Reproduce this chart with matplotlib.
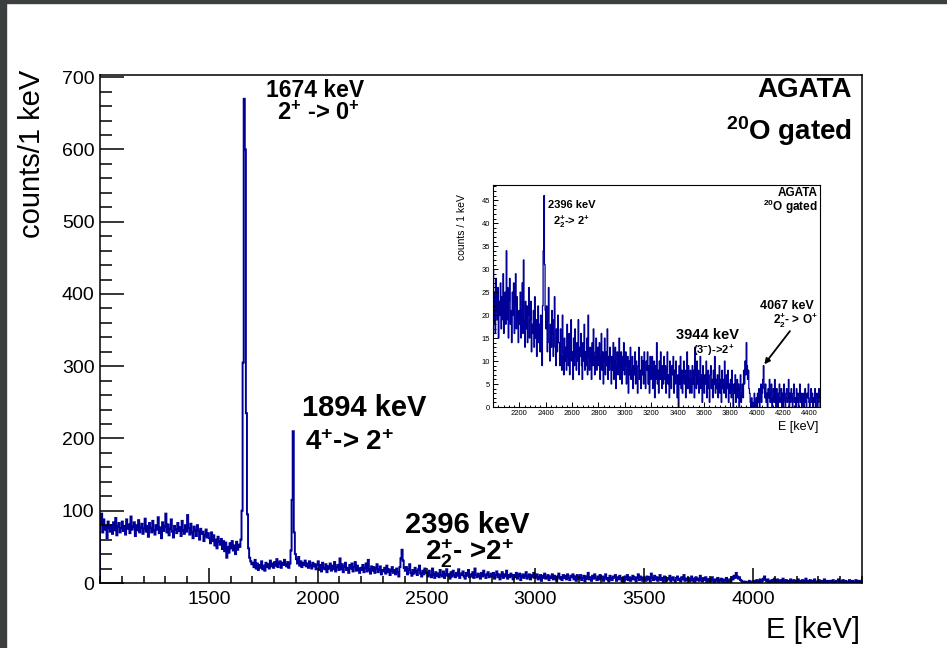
import numpy as np
import matplotlib
matplotlib.use('Agg')
import matplotlib.pyplot as plt
from matplotlib.patches import Rectangle
from matplotlib.ticker import MultipleLocator

plt.rcParams['font.family'] = ['Liberation Sans', 'DejaVu Sans']
plt.rcParams['mathtext.fontset'] = 'custom'
plt.rcParams['mathtext.rm'] = 'Liberation Sans'
plt.rcParams['mathtext.bf'] = 'Liberation Sans:bold'
plt.rcParams['mathtext.default'] = 'bf'

########## gamma spectrum, 20O gated (counts per keV, 5 keV steps) ##########
counts_1000 = [82, 96, 70, 88, 74, 79, 62, 85, 77, 71,
               80, 68, 84, 73, 90, 66, 78, 83, 70, 76,
               85, 72, 79, 67, 88, 75, 81, 69, 92, 74,
               78, 84, 65, 80, 73, 87, 70, 77, 82, 68,
               75, 89, 71, 79, 64, 83, 76, 70, 86, 73,
               67, 80, 74, 91, 69, 77, 62, 84, 72, 78,
               96, 70, 81, 66, 75, 88, 71, 63, 79, 74,
               69, 83, 72, 77, 65, 86, 73, 68, 80, 71,
               94, 76, 67, 82, 70, 62, 78, 73, 65, 80,
               72, 60, 75, 68, 71, 58, 66, 74, 63, 69]
# 1674 and 1894 keV lines
counts_1500 = [62, 55, 70, 58, 66, 52, 60, 48, 64, 57,
               53, 61, 47, 58, 44, 56, 35, 50, 42, 55,
               48, 58, 45, 52, 40, 57, 46, 53, 50, 60,
               100, 305, 670, 600, 235, 95, 48, 35, 30, 26,
               28, 22, 32, 20, 27, 18, 25, 21, 30, 19,
               24, 17, 28, 22, 26, 20, 31, 23, 27, 21,
               29, 24, 33, 22, 27, 30, 21, 28, 25, 32,
               26, 23, 29, 21, 27, 45, 115, 210, 70, 40,
               33, 27, 36, 24, 30, 22, 28, 25, 31, 23,
               27, 21, 30, 24, 20, 28, 23, 26, 19, 25]
# 2396 keV line
counts_2000 = [30, 18, 25, 16, 28, 21, 19, 26, 15, 23,
               20, 27, 17, 24, 19, 29, 16, 22, 25, 18,
               34, 19, 26, 15, 23, 28, 18, 21, 14, 25,
               20, 27, 16, 22, 29, 17, 24, 19, 14, 21,
               18, 25, 15, 21, 27, 16, 32, 19, 13, 23,
               17, 22, 14, 20, 26, 15, 19, 23, 12, 18,
               16, 21, 13, 24, 15, 19, 11, 17, 22, 14,
               18, 12, 20, 15, 9, 22, 34, 46, 31, 21,
               17, 22, 12, 19, 26, 14, 10, 18, 13, 21,
               16, 11, 19, 24, 13, 9, 17, 12, 20, 14]
counts_2500 = [14, 9, 17, 11, 8, 20, 12, 7, 15, 10,
               13, 8, 18, 11, 9, 16, 7, 12, 19, 10,
               12, 6, 15, 9, 17, 11, 8, 14, 10, 19,
               7, 13, 11, 16, 9, 6, 14, 10, 18, 8,
               12, 9, 15, 7, 20, 11, 8, 13, 10, 6,
               14, 9, 17, 11, 7, 12, 15, 8, 10, 13,
               9, 14, 6, 11, 16, 8, 12, 5, 10, 15,
               7, 12, 9, 17, 6, 11, 8, 13, 10, 5,
               11, 8, 14, 6, 10, 13, 4, 9, 12, 7,
               10, 15, 6, 9, 12, 5, 11, 8, 14, 7]
counts_3000 = [9, 12, 5, 8, 11, 3, 10, 7, 13, 6,
               8, 11, 4, 9, 7, 12, 5, 10, 6, 3,
               9, 13, 6, 8, 4, 11, 7, 10, 5, 12,
               7, 4, 10, 8, 12, 5, 9, 3, 11, 6,
               8, 11, 4, 7, 10, 2, 9, 6, 14, 5,
               8, 3, 10, 6, 12, 7, 4, 9, 5, 11,
               6, 9, 3, 8, 12, 5, 7, 2, 10, 6,
               4, 9, 7, 11, 3, 8, 5, 10, 6, 2,
               7, 0, 9, 5, 11, 4, 8, 3, 6, 10,
               5, 8, 2, 7, 12, 4, 9, 6, 3, 8]
# 3944 keV line
counts_3500 = [6, 3, 9, 5, 8, 2, 13, 7, 4, 10,
               5, 8, 3, 6, 11, 4, 7, 1, 9, 5,
               3, 7, 5, 10, 2, 6, 8, 4, 1, 7,
               9, 4, 6, 2, 8, 5, 11, 3, 6, 4,
               7, 2, 5, 9, 3, 6, 1, 8, 4, 6,
               3, 10, 5, 2, 7, 4, 8, 1, 5, 3,
               6, 2, 8, 4, 0, 5, 3, 7, 1, 4,
               6, 2, 5, 0, 4, 7, 1, 3, 5, 2,
               8, 5, 10, 7, 14, 9, 6, 8, 4, 3,
               1, 0, 2, 0, 1, 0, 3, 0, 1, 2]
# 4067 keV line
counts_4000 = [0, 3, 1, 4, 0, 2, 5, 1, 3, 6,
               9, 4, 2, 5, 1, 3, 0, 4, 2, 6,
               1, 3, 5, 0, 2, 4, 1, 6, 3, 0,
               4, 2, 0, 3, 5, 1, 2, 4, 0, 3,
               1, 5, 2, 0, 3, 4, 1, 2, 6, 0,
               3, 1, 4, 2, 0, 3, 5, 1, 2, 0,
               4, 1, 3, 0, 2, 5, 1, 3, 0, 2,
               3, 0, 2, 4, 1, 0, 3, 2, 5, 1,
               0, 2, 4, 1, 3, 0, 2, 1, 4, 0,
               2, 3, 0, 1, 4, 2, 0, 3, 1, 2]

counts = np.array(counts_1000 + counts_1500 + counts_2000 + counts_2500
                  + counts_3000 + counts_3500 + counts_4000)
edges = np.arange(1000, 4505, 5)

blue = '#000099'

fig = plt.figure(figsize=(9.47, 6.48), dpi=100)
fig.patches.append(Rectangle((0, 1 - 3/648), 1, 3/648, transform=fig.transFigure,
                             color='#3b3f3f', zorder=10))
fig.patches.append(Rectangle((0, 0), 6/947, 1, transform=fig.transFigure,
                             color='#3b3f3f', zorder=10))

########## main spectrum ##########
ax = fig.add_axes([100/947, 65/648, 762/947, 508/648])
ax.stairs(counts, edges, color=blue, lw=1.4)
ax.set_xlim(1000, 4500)
ax.set_ylim(0, 703)
ax.set_xticks(np.arange(1500, 4001, 500))
ax.xaxis.set_minor_locator(MultipleLocator(100))
ax.yaxis.set_major_locator(MultipleLocator(100))
ax.yaxis.set_minor_locator(MultipleLocator(20))
ax.tick_params(axis='both', which='both', direction='in', top=False, right=False,
               width=1.1, labelsize=14)
ax.tick_params(axis='y', which='major', length=17, pad=4)
ax.tick_params(axis='y', which='minor', length=8.5)
ax.tick_params(axis='x', which='major', length=11, pad=6)
ax.tick_params(axis='x', which='minor', length=5)
for s in ax.spines.values():
    s.set_linewidth(1.1)

ax.text(-0.0892, 0.844, 'counts/1 keV', transform=ax.transAxes, rotation=90,
        ha='center', va='center', fontsize=21)
ax.text(0.997, -0.0925, 'E [keV]', transform=ax.transAxes, ha='right', va='center',
        fontsize=21)

ax.text(1988, 682, '1674 keV', ha='center', va='center', fontsize=16.5, fontweight='bold')
ax.text(2001, 650, r'2$^{+}$ -> 0$^{+}$', ha='center', va='center', fontsize=17,
        fontweight='bold')
ax.text(2213, 242, '1894 keV', ha='center', va='center', fontsize=21, fontweight='bold')
ax.text(2148, 194, r'4$^{+}$-> 2$^{+}$', ha='center', va='center', fontsize=20,
        fontweight='bold')
ax.text(2686, 80, '2396 keV', ha='center', va='center', fontsize=21, fontweight='bold')
ax.text(2700, 41, r'$2_{2}^{+}$- >2$^{+}$', ha='center', va='center', fontsize=20,
        fontweight='bold')
ax.text(0.987, 0.970, 'AGATA', transform=ax.transAxes, ha='right', va='center',
        fontsize=20, fontweight='bold')
ax.text(0.987, 0.890, r'$^{20}$O gated', transform=ax.transAxes, ha='right', va='center',
        fontsize=20, fontweight='bold')

########## inset, 2000-4500 keV ##########
ax_in = fig.add_axes([493/947, 241/648, 327/947, 222/648], zorder=5)
ax_in.set_facecolor('white')
ax_in.stairs(counts, edges, color=blue, lw=0.9)
ax_in.set_xlim(2000, 4480)
ax_in.set_ylim(0, 48.3)
ax_in.set_xticks(np.arange(2200, 4401, 200))
ax_in.xaxis.set_minor_locator(MultipleLocator(40))
ax_in.yaxis.set_major_locator(MultipleLocator(5))
ax_in.yaxis.set_minor_locator(MultipleLocator(1))
ax_in.tick_params(axis='both', which='both', direction='in', top=False, right=False,
                  width=0.7, labelsize=5.5, pad=2)
ax_in.tick_params(axis='both', which='major', length=3.5)
ax_in.tick_params(axis='both', which='minor', length=1.8)
for s in ax_in.spines.values():
    s.set_linewidth(0.8)

ax_in.text(-0.095, 0.812, 'counts / 1 keV', transform=ax_in.transAxes, rotation=90,
           ha='center', va='center', fontsize=7.5)
ax_in.text(0.994, -0.09, 'E [keV]', transform=ax_in.transAxes, ha='right', va='center',
           fontsize=9)
ax_in.text(0.994, 0.964, 'AGATA', transform=ax_in.transAxes, ha='right', va='center',
           fontsize=8.5, fontweight='bold')
ax_in.text(0.994, 0.900, r'$^{20}$O gated', transform=ax_in.transAxes, ha='right',
           va='center', fontsize=8.5, fontweight='bold')

ax_in.text(2597, 43.9, '2396 keV', ha='center', va='center', fontsize=8, fontweight='bold')
ax_in.text(2597, 40.3, r'$2_{2}^{+}$-> 2$^{+}$', ha='center', va='center', fontsize=8,
           fontweight='bold')
ax_in.text(3625, 15.7, '3944 keV', ha='center', va='center', fontsize=10.5,
           fontweight='bold')
ax_in.text(3675, 12.4, r'(3$^{-}$)->2$^{+}$', ha='center', va='center', fontsize=8,
           fontweight='bold')
ax_in.text(4231, 22.0, '4067 keV', ha='center', va='center', fontsize=9, fontweight='bold')
ax_in.text(4297, 18.9, r'$2_{2}^{+}$- > O$^{+}$', ha='center', va='center', fontsize=8.5,
           fontweight='bold')
ax_in.annotate('', xy=(4045, 8.8), xytext=(4265, 17.0),
               arrowprops=dict(arrowstyle='-|>', color='black', lw=1.3,
                               mutation_scale=8))

fig.savefig('out.png', dpi=100)
